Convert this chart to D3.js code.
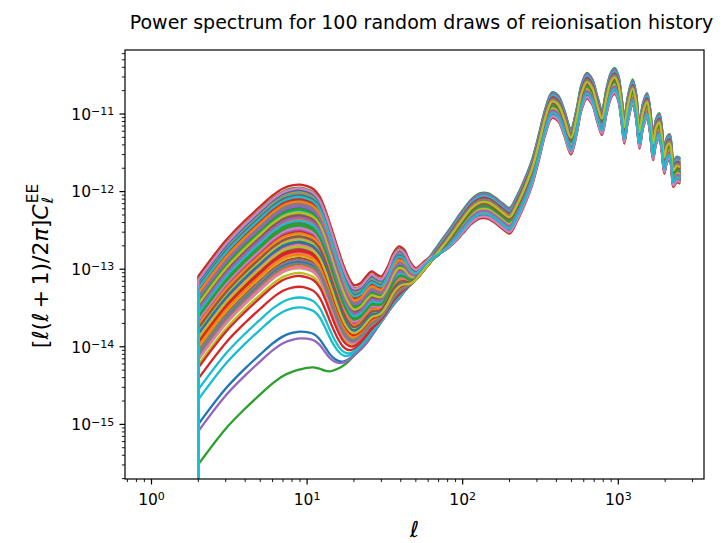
<!DOCTYPE html>
<html>
<head>
<meta charset="utf-8">
<script src="https://cdn.jsdelivr.net/npm/d3@7"></script>
<style>
  body { margin: 0; background: #fff; }
  svg { display: block; }
  text { font-family: "DejaVu Sans", sans-serif; fill: #000; }
</style>
</head>
<body>
<svg id="chart" width="723" height="543"></svg>
<script>
// Multipoles at which the spectra are tabulated
const ell = [2, 3, 4, 5, 6, 7, 8, 9, 10, 11, 12, 13, 14, 15, 16, 17, 18, 19, 20, 22, 24, 26, 28, 30,
  33, 36, 39, 42, 46, 50, 56, 63, 70, 80, 90, 100, 115, 130, 145, 160, 180, 200, 220, 250, 280,
  310, 340, 375, 410, 450, 496, 540, 580, 629, 680, 735, 785, 840, 900, 948, 1000, 1050, 1093,
  1150, 1236, 1300, 1370, 1440, 1530, 1600, 1672, 1750, 1835, 1900, 1977, 2060, 2138, 2200,
  2257, 2380, 2500];

// log10 of the recombination part of l(l+1)C_l^EE/2pi for the draw with the smallest optical depth
const recombLogCl = [-17.5, -17.1, -16.8, -16.5, -16.2, -15.85, -15.55, -15.27, -15.0, -14.84, -14.70,
  -14.57, -14.47, -14.39, -14.33, -14.28, -14.23, -14.18, -14.13, -14.05, -13.97, -13.87, -13.77,
  -13.68, -13.56, -13.46, -13.38, -13.29, -13.18, -13.08, -12.95, -12.81, -12.68, -12.52, -12.37,
  -12.24, -12.09, -12.02, -12.02, -12.07, -12.15, -12.21, -12.08, -11.84, -11.58,
  -11.25, -10.93, -10.72, -10.76, -10.95, -11.19, -10.93, -10.62, -10.47, -10.55, -10.78, -10.94,
  -10.67, -10.46, -10.41, -10.50, -10.78, -11.05, -10.78, -10.555, -10.73, -11.115, -10.86, -10.73,
  -10.92, -11.265, -11.06, -10.99, -11.15, -11.44, -11.29, -11.26, -11.40, -11.61, -11.55, -11.57];

// log10 of the reionisation bump for the draw with the largest bump (negligible beyond l = 280)
const reionLogCl = [-13.09, -12.63, -12.37, -12.19, -12.05, -11.96, -11.92, -11.91, -11.93, -11.97,
  -12.06, -12.22, -12.41, -12.60, -12.78, -12.94, -13.07, -13.17, -13.23, -13.21, -13.12, -13.06,
  -13.11, -13.15, -13.02, -12.83, -12.75, -12.81, -13.03, -13.19, -13.15, -13.12, -13.20, -13.36,
  -13.55, -13.72, -14.00, -14.30, -14.60, -14.90, -15.30, -15.70, -16.10, -16.60, -17.00];

// log10 height of the reionisation bump (l ~ 9) for each of the 100 draws, in plotting order
const bumpPeakLogCl = [
  -12.31, -12.05, -12.62, -12.18, -12.40, -12.93, -12.12, -12.56, -12.27, -12.71,
  -12.00, -12.44, -12.09, -12.85, -12.23, -12.36, -12.67, -11.98, -12.98, -12.14,
  -12.52, -12.29, -12.03, -11.90, -12.47, -12.20, -12.78, -12.34, -12.07, -12.59,
  -13.81, -12.16, -12.42, -12.01, -12.88, -12.25, -11.96, -12.73, -12.38, -13.49,
  -12.11, -12.95, -12.21, -12.50, -12.04, -12.65, -12.32, -12.17, -13.04, -12.45,
  -12.27, -11.99, -14.33, -12.76, -12.13, -12.39, -12.58, -12.06, -12.82, -12.24,
  -12.90, -12.35, -11.94, -13.22, -12.48, -12.10, -12.69, -12.28, -12.54, -12.02,
  -12.19, -12.80, -12.41, -12.08, -13.90, -12.30, -12.97, -12.15, -12.61, -12.37,
  -11.97, -12.53, -12.22, -12.74, -12.33, -12.04, -12.46, -12.87, -12.26, -13.36,
  -12.64, -12.12, -12.43, -13.08, -12.18, -12.57, -11.95, -12.92, -12.70, -12.06];

// Optical depth of the draw with the largest bump
const tauTop = 0.405;

// Axis decades and limits
const xTickExponents = [0, 1, 2, 3];
const yTickExponents = [-15, -14, -13, -12, -11];
const xLimits = [Math.pow(10, -0.1703), Math.pow(10, 3.5508)];
const yLimits = [Math.pow(10, -15.704), Math.pow(10, -10.175)];

const titleText = "Power spectrum for 100 random draws of reionisation history";

// ---------------------------------------------------------------------------
const svg = d3.select("#chart");
const plot = { left: 125, right: 704, top: 50, bottom: 479 };

const x = d3.scaleLog().domain(xLimits).range([plot.left, plot.right]);
const y = d3.scaleLog().domain(yLimits).range([plot.bottom, plot.top]);

svg.append("defs").append("clipPath").attr("id", "plot-clip")
  .append("rect")
  .attr("x", plot.left).attr("y", plot.top)
  .attr("width", plot.right - plot.left).attr("height", plot.bottom - plot.top);

// Spectrum of each draw: scaled reionisation bump plus the recombination part damped by exp(-2 tau)
const pTop = d3.max(bumpPeakLogCl);
const amps = bumpPeakLogCl.map(p => Math.pow(10, p - pTop));
const taus = amps.map(a => tauTop * Math.sqrt(a));
const tauLow = d3.min(taus);

const draws = bumpPeakLogCl.map((p, i) => ell.map((l, k) => {
  const reion = k < reionLogCl.length ? amps[i] * Math.pow(10, reionLogCl[k]) : 0;
  const recomb = Math.exp(-2 * (taus[i] - tauLow)) * Math.pow(10, recombLogCl[k]);
  return [l, reion + recomb];
}));

const colors = d3.schemeCategory10;
const line = d3.line()
  .x(d => x(d[0]))
  .y(d => y(d[1]))
  .curve(d3.curveCatmullRom.alpha(0.5));

const linesG = svg.append("g").attr("clip-path", "url(#plot-clip)");
draws.forEach((pts, i) => {
  // the l = 2 value drops to zero first, giving the vertical stroke at the left
  const body = line(pts);
  const d = `M${x(pts[0][0])},${plot.bottom + 30}L` + body.slice(1);
  linesG.append("path")
    .attr("d", d)
    .attr("fill", "none")
    .attr("stroke", colors[i % 10])
    .attr("stroke-width", 2.3)
    .attr("stroke-linejoin", "round")
    .attr("stroke-linecap", "butt");
});

// ---------------------------------------------------------------------------
// Axes
const axesG = svg.append("g");
const majorLen = 5.5, minorLen = 3.1;

function minorValues(lo, hi, kFrom, kTo) {
  const out = [];
  for (let k = kFrom; k <= kTo; k++) {
    for (let m = 2; m <= 9; m++) {
      const v = m * Math.pow(10, k);
      if (v >= lo && v <= hi) out.push(v);
    }
  }
  return out;
}

// x ticks
minorValues(xLimits[0], xLimits[1], -1, 3).forEach(v => {
  axesG.append("line")
    .attr("x1", x(v)).attr("x2", x(v))
    .attr("y1", plot.bottom).attr("y2", plot.bottom + minorLen)
    .attr("stroke", "#000").attr("stroke-width", 0.9);
});
xTickExponents.forEach(e => {
  const v = Math.pow(10, e);
  axesG.append("line")
    .attr("x1", x(v)).attr("x2", x(v))
    .attr("y1", plot.bottom).attr("y2", plot.bottom + majorLen)
    .attr("stroke", "#000").attr("stroke-width", 1.2);
  const t = axesG.append("text")
    .attr("x", x(v)).attr("y", 505)
    .attr("text-anchor", "middle")
    .style("font-size", "15.5px");
  t.append("tspan").text("10");
  t.append("tspan").attr("dy", "-0.42em").style("font-size", "11px").text(String(e).replace("-", "\u2212"));
});

// y ticks
minorValues(yLimits[0], yLimits[1], -16, -11).forEach(v => {
  axesG.append("line")
    .attr("x1", plot.left - minorLen).attr("x2", plot.left)
    .attr("y1", y(v)).attr("y2", y(v))
    .attr("stroke", "#000").attr("stroke-width", 0.9);
});
yTickExponents.forEach(e => {
  const v = Math.pow(10, e);
  axesG.append("line")
    .attr("x1", plot.left - majorLen).attr("x2", plot.left)
    .attr("y1", y(v)).attr("y2", y(v))
    .attr("stroke", "#000").attr("stroke-width", 1.2);
  const t = axesG.append("text")
    .attr("x", plot.left - majorLen - 5.2).attr("y", y(v) + 5.8)
    .attr("text-anchor", "end")
    .style("font-size", "15.5px");
  t.append("tspan").text("10");
  t.append("tspan").attr("dy", "-0.42em").style("font-size", "11px").text(String(e).replace("-", "\u2212"));
});

// frame
axesG.append("rect")
  .attr("x", plot.left).attr("y", plot.top)
  .attr("width", plot.right - plot.left).attr("height", plot.bottom - plot.top)
  .attr("fill", "none").attr("stroke", "#000").attr("stroke-width", 1.2);

// ---------------------------------------------------------------------------
// Title and axis labels
svg.append("text")
  .attr("x", 421.5).attr("y", 29)
  .attr("text-anchor", "middle")
  .style("font-size", "19px")
  .text(titleText);

svg.append("text")
  .attr("x", (plot.left + plot.right) / 2).attr("y", 537)
  .attr("text-anchor", "middle")
  .style("font-size", "22px")
  .style("font-style", "italic")
  .text("\u2113");

// y label: [l(l+1)/2pi] C_l^EE
const ylab = svg.append("g").attr("transform", "translate(40,266) rotate(-90)");
const ylabInner = ylab.append("g");
const main = ylabInner.append("text").attr("x", 0).attr("y", 0).style("font-size", "22px");
[["[", false], ["\u2113", true], ["(", false], ["\u2113", true], ["\u2009+\u20091)/2", false],
 ["\u03c0", true], ["]", false], ["C", true]].forEach(([s, it]) => {
  main.append("tspan").style("font-style", it ? "italic" : "normal").text(s);
});
const mainW = main.node().getComputedTextLength();
const sub = ylabInner.append("text")
  .attr("x", mainW + 1).attr("y", 5)
  .style("font-size", "15.4px").style("font-style", "italic").text("\u2113");
const sup = ylabInner.append("text")
  .attr("x", mainW + 1).attr("y", -10)
  .style("font-size", "15.4px").text("EE");
const totalW = mainW + 1 + Math.max(sub.node().getComputedTextLength(), sup.node().getComputedTextLength());
ylabInner.attr("transform", `translate(${-totalW / 2},8)`);
</script>
</body>
</html>
